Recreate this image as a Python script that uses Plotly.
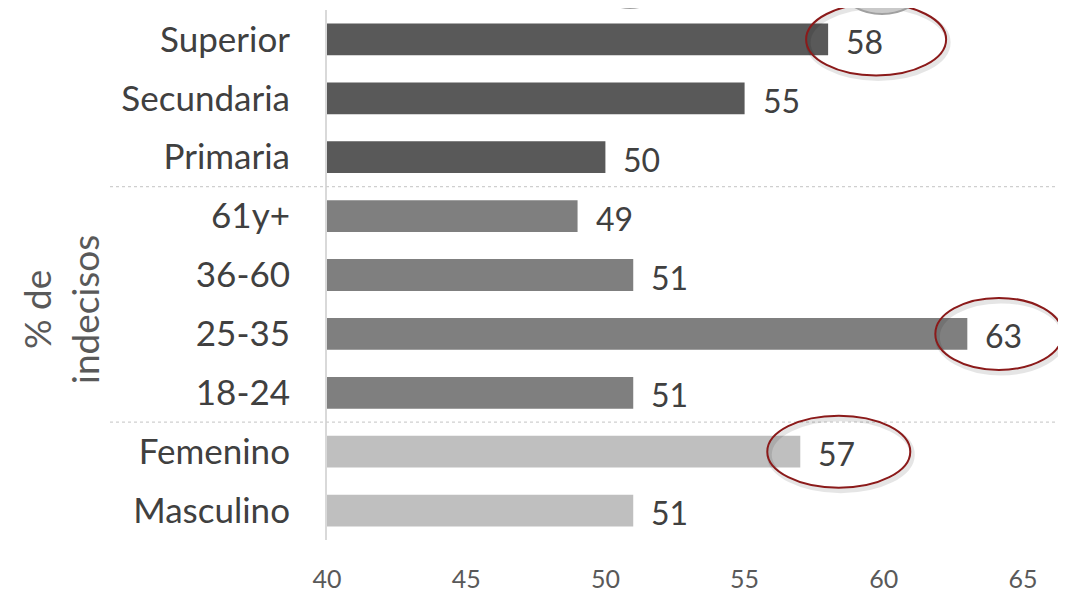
import plotly.graph_objects as go

# categorias de abajo hacia arriba
categorias = ['Masculino', 'Femenino', '18-24', '25-35', '36-60', '61y+',
              'Primaria', 'Secundaria', 'Superior']
valores = [51, 57, 51, 63, 51, 49, 50, 55, 58]
colores = ['#BFBFBF', '#BFBFBF', '#7F7F7F', '#7F7F7F', '#7F7F7F', '#7F7F7F',
           '#595959', '#595959', '#595959']
ticks_x = [40, 45, 50, 55, 60, 65]
destacados = ['Superior', '25-35', 'Femenino']

W, H = 1066, 594
OFF = 8  # margen del body de la pagina
# area de trazado deseada en pixeles de pantalla: x 327..1023, y 10..540
L, T = 327 - OFF, 10 - OFF
R = W + OFF - 1023
B = H + OFF - 540
PW, PH = W - L - R, H - T - B
XMIN, XMAX = 40, 65
FONT = 'Lato, Open Sans, sans-serif'


def px_x(px):
    return (px - OFF - L) / PW


def px_y(py):
    return (H - B - (py - OFF)) / PH


fig = go.Figure(go.Bar(
    x=valores,
    y=categorias,
    orientation='h',
    marker=dict(color=colores, line=dict(width=0)),
    hoverinfo='skip',
))

# etiquetas de valor
for cat, v in zip(categorias, valores):
    fig.add_annotation(x=v, y=cat, text=str(v), showarrow=False,
                       xanchor='left', xshift=16, yshift=-2,
                       font=dict(family=FONT, size=32, color='#404040'))

# separadores punteados entre grupos
for yy in [1.5, 5.5]:
    fig.add_shape(type='line', xref='paper', yref='y',
                  x0=px_x(110), x1=px_x(1064), y0=yy, y1=yy,
                  line=dict(color='#CFCFCF', width=1.2, dash='dot'))

# elipses rojas alrededor de valores destacados (en coordenadas de papel)
offsets = {'Superior': (-22, 118), '25-35': (-32, 95), 'Femenino': (-33, 110)}
n = len(categorias)
for cat in destacados:
    i = categorias.index(cat)
    a, b = offsets[cat]
    xv = (valores[i] - XMIN) / (XMAX - XMIN)
    yc = (i + 0.5) / n
    fig.add_shape(type='circle', xref='paper', yref='paper',
                  x0=xv + (a + 2) / PW, x1=xv + (b + 2) / PW,
                  y0=yc - 39 / PH, y1=yc + 33 / PH,
                  line=dict(color='rgba(0,0,0,0.10)', width=5), layer='above')
    fig.add_shape(type='circle', xref='paper', yref='paper',
                  x0=xv + a / PW, x1=xv + b / PW,
                  y0=yc - 36 / PH, y1=yc + 36 / PH,
                  line=dict(color='#8B1A1A', width=2), layer='above')

# monedas decorativas cortadas arriba
for cx, cy, rx, ry in [(630, -52, 48, 60), (882, -38, 54, 52), (1112, -46, 70, 57)]:
    fig.add_shape(type='circle', xref='paper', yref='paper',
                  x0=px_x(cx - rx), x1=px_x(cx + rx),
                  y0=px_y(cy + ry), y1=px_y(cy - ry),
                  fillcolor='#C9C9C9', line=dict(color='#A0A0A0', width=2),
                  layer='above')

# titulo del eje y
fig.add_annotation(xref='paper', yref='paper', x=px_x(60), y=px_y(310),
                   xanchor='center', yanchor='middle',
                   text='% de<br>indecisos', textangle=-90, showarrow=False,
                   font=dict(family=FONT, size=37, color='#595959'))

fig.update_layout(
    width=W, height=H,
    margin=dict(l=L, r=R, t=T, b=B, autoexpand=False),
    paper_bgcolor='white', plot_bgcolor='white',
    bargap=0.46,
    showlegend=False,
    xaxis=dict(range=[XMIN, XMAX], tickvals=ticks_x, showgrid=False,
               zeroline=False, showline=False, ticks='', automargin=False,
               ticklabelstandoff=22,
               tickfont=dict(family=FONT, size=25, color='#595959')),
    yaxis=dict(categoryorder='array', categoryarray=categorias,
               showgrid=False, zeroline=False, showline=True,
               linecolor='#D9D9D9', linewidth=2, ticks='', automargin=False,
               ticklabelstandoff=28,
               tickfont=dict(family=FONT, size=35, color='#404040')),
)

fig.write_html("out.html")
